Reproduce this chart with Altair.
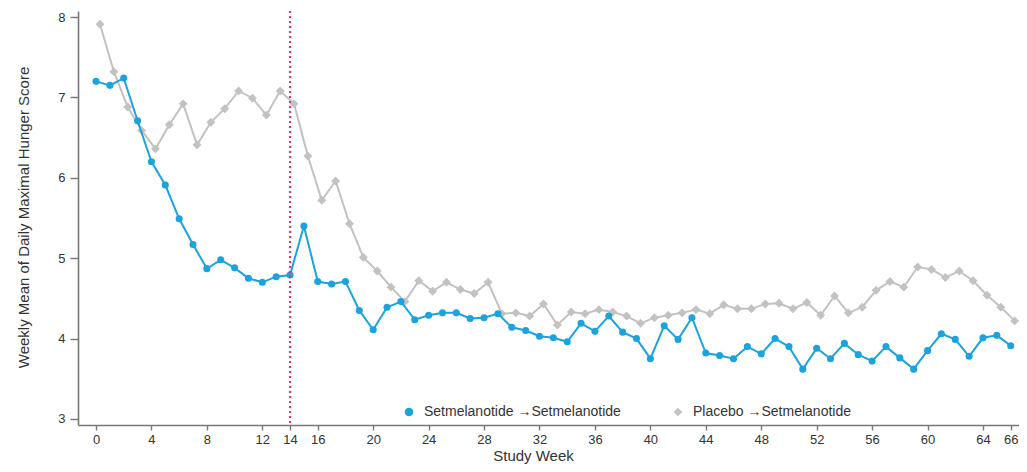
import altair as alt
import pandas as pd

weeks = list(range(67))
setmel = [7.20, 7.15, 7.24, 6.71, 6.20, 5.91, 5.49, 5.17, 4.87, 4.98,
          4.88, 4.75, 4.70, 4.77, 4.79, 5.40, 4.71, 4.68, 4.71, 4.35,
          4.11, 4.39, 4.46, 4.235, 4.29, 4.32, 4.32, 4.25, 4.26, 4.31,
          4.14, 4.10, 4.03, 4.01, 3.96, 4.19, 4.09, 4.28, 4.08, 4.00,
          3.75, 4.16, 3.99, 4.26, 3.82, 3.79, 3.75, 3.90, 3.81, 4.00,
          3.90, 3.62, 3.88, 3.75, 3.94, 3.80, 3.72, 3.90, 3.76, 3.62,
          3.85, 4.06, 3.99, 3.78, 4.01, 4.04, 3.91]
placebo = [7.91, 7.32, 6.88, 6.59, 6.36, 6.66, 6.92, 6.41, 6.69, 6.86,
           7.08, 6.99, 6.78, 7.08, 6.92, 6.27, 5.72, 5.96, 5.43, 5.01,
           4.84, 4.64, 4.46, 4.72, 4.59, 4.70, 4.61, 4.56, 4.70, 4.31,
           4.32, 4.28, 4.43, 4.17, 4.33, 4.31, 4.36, 4.33, 4.28, 4.19,
           4.26, 4.29, 4.32, 4.36, 4.31, 4.42, 4.37, 4.37, 4.43, 4.44,
           4.37, 4.45, 4.29, 4.53, 4.32, 4.39, 4.60, 4.71, 4.64, 4.89,
           4.86, 4.76, 4.84, 4.72, 4.54, 4.39, 4.22]
series_names = ["Setmelanotide \u2192Setmelanotide", "Placebo \u2192Setmelanotide"]
series_colors = ["#1ba3de", "#c2c2c2"]
series_shapes = ["circle", "diamond"]
x_ticks = [0, 4, 8, 12, 14, 16, 20, 24, 28, 32, 36, 40, 44, 48, 52, 56, 60, 64, 66]
y_ticks = [3, 4, 5, 6, 7, 8]
switch_week = [14]

df = pd.DataFrame({
    "week": weeks * 2,
    "score": setmel + placebo,
    "series": [series_names[0]] * len(weeks) + [series_names[1]] * len(weeks),
})
rule_df = pd.DataFrame({"week": switch_week})

FONT = "Liberation Sans"

xscale = alt.Scale(domain=[-1.3, 66.6], nice=False, zero=False)
yscale = alt.Scale(domain=[2.925, 8.075], nice=False, zero=False)
cscale = alt.Scale(domain=series_names, range=series_colors)
sscale = alt.Scale(domain=series_names, range=series_shapes)

xenc = alt.X("week:Q", scale=xscale,
             axis=alt.Axis(values=x_ticks, title="Study Week", grid=False,
                           titleX=455, titleY=23, titleBaseline="top",
                           titleAlign="center", tickSize=5, labelPadding=3))
yenc = alt.Y("score:Q", scale=yscale,
             axis=alt.Axis(values=y_ticks, title="Weekly Mean of Daily Maximal Hunger Score",
                           grid=False, tickSize=8, labelPadding=5,
                           titleX=-47, titleY=206, titleBaseline="bottom",
                           titleAngle=-90, titleAlign="center"))

legend = alt.Legend(title=None, orient="none", direction="horizontal",
                    legendX=324, legendY=394, columns=2,
                    columnPadding=50, labelOffset=8, labelLimit=400,
                    symbolSize=75, padding=0,
                    labelFont=FONT, labelFontSize=14,
                    labelColor="#333333")

base = alt.Chart(df)

def layers_for(idx, offset, size):
    name = series_names[idx]
    sub = base.transform_filter(alt.datum.series == name)
    line = sub.mark_line(strokeWidth=2, xOffset=offset, color=series_colors[idx]).encode(
        x=xenc, y=yenc,
    )
    pts = sub.mark_point(filled=True, opacity=1, size=size, xOffset=offset).encode(
        x=xenc, y=yenc,
        color=alt.Color("series:N", scale=cscale, legend=legend),
        shape=alt.Shape("series:N", scale=sscale, legend=legend),
    )
    return [line, pts]

rule = alt.Chart(rule_df).mark_rule(color="#e8336e", strokeWidth=2.2,
                                    strokeDash=[2, 3]).encode(
    x=alt.X("week:Q", scale=xscale))

chart = alt.layer(
    *layers_for(1, 4, 80),
    *layers_for(0, 0, 50),
    rule,
).properties(
    width=941, height=414,
    autosize=alt.AutoSizeParams(type="none"),
    padding={"left": 70, "top": 3, "right": 0, "bottom": 39},
).configure_view(stroke=None).configure_axis(
    domainColor="#777777", domainWidth=1.6, tickColor="#777777", tickWidth=1.4,
    labelFont=FONT, labelFontSize=13, labelColor="#333333",
    titleFont=FONT, titleFontSize=16, titleColor="#333333", titleFontWeight="normal",
).configure_axisX(titleFontSize=15).configure_axisY(titleFontSize=15)

chart.save("out.html", embed_options={"renderer": "svg", "actions": False})
